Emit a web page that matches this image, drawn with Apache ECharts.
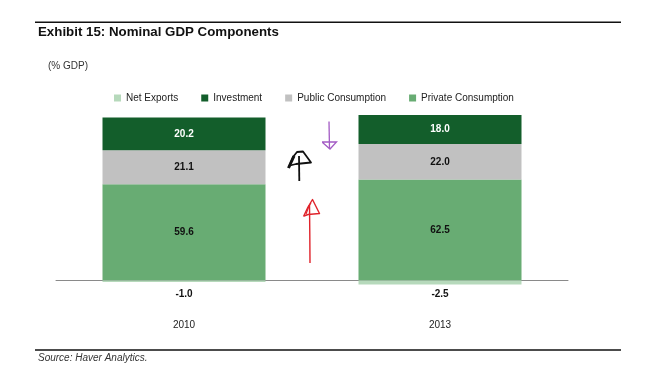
<!DOCTYPE html>
<html>
<head>
<meta charset="utf-8">
<script src="https://cdn.jsdelivr.net/npm/echarts@6/dist/echarts.min.js"></script>
<style>
html,body{margin:0;padding:0;background:#fff;}
#chart{width:652px;height:373px;}
</style>
</head>
<body>
<div id="chart"></div>
<script>
const categories = ['2010', '2013'];
const privateConsumption = [59.6, 62.5];
const publicConsumption = [21.1, 22.0];
const investment = [20.2, 18.0];
const netExports = [-1.0, -2.5];
const legendOrder = ['Net Exports', 'Investment', 'Public Consumption', 'Private Consumption'];

const FONT = '"Liberation Sans", Arial, sans-serif';
const colors = {
  net: '#b6d9bb',
  inv: '#135e2b',
  pub: '#c1c1c1',
  priv: '#68ac73'
};

const chart = echarts.init(document.getElementById('chart'), null, {renderer: 'canvas'});

function lbl(color) {
  return {
    show: true,
    position: 'inside',
    color: color,
    fontFamily: FONT,
    fontSize: 10,
    fontWeight: 'bold',
    formatter: p => Number(p.value).toFixed(1)
  };
}

const netDist = [7, 5];

const option = {
  animation: false,
  backgroundColor: '#fff',
  title: {
    text: 'Exhibit 15: Nominal GDP Components',
    left: 33,
    top: 21,
    textStyle: {fontFamily: FONT, fontSize: 13.3, fontWeight: 'bold', color: '#111'}
  },
  legend: {
    data: legendOrder,
    left: 109,
    top: 88,
    icon: 'rect',
    itemWidth: 7,
    itemHeight: 7,
    itemGap: 23,
    textStyle: {fontFamily: FONT, fontSize: 10, color: '#222'}
  },
  grid: {left: 56, right: 84, top: 102.85, bottom: 60.2, containLabel: false},
  xAxis: {
    type: 'category',
    data: categories,
    axisLine: {show: true, onZero: true, lineStyle: {color: '#8a8a8a', width: 1}},
    axisTick: {show: false},
    axisLabel: {margin: 7, fontFamily: FONT, fontSize: 10, color: '#222'}
  },
  yAxis: {
    type: 'value',
    min: -20,
    max: 110,
    show: false,
    splitLine: {show: false}
  },
  series: [
    {
      name: 'Private Consumption', type: 'bar', stack: 'gdp', barWidth: 163,
      data: privateConsumption, itemStyle: {color: colors.priv}, label: lbl('#111')
    },
    {
      name: 'Public Consumption', type: 'bar', stack: 'gdp', barWidth: 163,
      data: publicConsumption, itemStyle: {color: colors.pub}, label: lbl('#111')
    },
    {
      name: 'Investment', type: 'bar', stack: 'gdp', barWidth: 163,
      data: investment, itemStyle: {color: colors.inv}, label: lbl('#fff')
    },
    {
      name: 'Net Exports', type: 'bar', stack: 'gdp', barWidth: 163,
      data: netExports.map((v, i) => ({
        value: v,
        label: Object.assign(lbl('#111'), {position: 'bottom', distance: netDist[i]})
      })),
      itemStyle: {color: colors.net}
    }
  ],
  graphic: [
    {type: 'text', left: 48, top: 61, style: {text: '(% GDP)', fontFamily: FONT, fontSize: 10, fill: '#333'}},
    {type: 'line', shape: {x1: 35, y1: 22.3, x2: 621, y2: 22.3}, style: {stroke: '#111', lineWidth: 1.5}},
    {type: 'line', shape: {x1: 35, y1: 350, x2: 621, y2: 350}, style: {stroke: '#111', lineWidth: 1.5}},
    {type: 'text', left: 38, top: 353, style: {text: 'Source: Haver Analytics.', fontFamily: FONT, fontSize: 10, fontStyle: 'italic', fill: '#333'}},
    // hand-drawn annotation arrows
    {type: 'polyline', shape: {points: [[329, 121.5], [329.5, 149]]}, style: {stroke: '#a35bc4', lineWidth: 1.3, fill: null}},
    {type: 'polyline', shape: {points: [[322, 142], [336.5, 142], [330, 149], [322.5, 142.5]]}, style: {stroke: '#a35bc4', lineWidth: 1.3, fill: null}},
    {type: 'polyline', shape: {points: [[299, 156], [299.3, 181]]}, style: {stroke: '#111', lineWidth: 1.8, fill: null}},
    {type: 'polyline', shape: {points: [[288.5, 168], [293, 157], [297, 152], [303, 151.5], [311, 162.5], [296, 164], [290, 165.5]]}, style: {stroke: '#111', lineWidth: 1.8, fill: null, lineJoin: 'round'}},
    {type: 'polyline', shape: {points: [[288.5, 168], [294, 156]]}, style: {stroke: '#111', lineWidth: 3, fill: null}},
    {type: 'polyline', shape: {points: [[309.5, 205], [309.8, 234], [310, 263]]}, style: {stroke: '#e0232b', lineWidth: 1.4, fill: null}},
    {type: 'polyline', shape: {points: [[303.5, 216.5], [308, 207], [312.5, 199.5], [319.5, 213.5], [308, 214.5], [304, 216]]}, style: {stroke: '#e0232b', lineWidth: 1.4, fill: null, lineJoin: 'round'}},
    {type: 'polyline', shape: {points: [[306, 214], [309, 206], [311, 203]]}, style: {stroke: '#e0232b', lineWidth: 1.2, fill: null}}
  ]
};

chart.setOption(option);
</script>
</body>
</html>
